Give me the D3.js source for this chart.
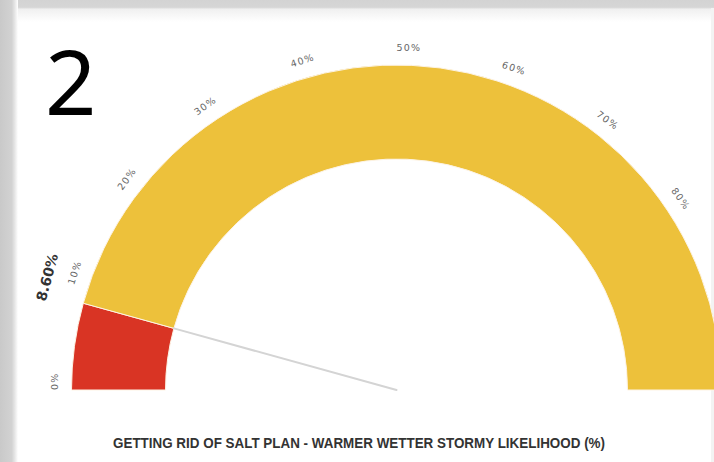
<!DOCTYPE html>
<html>
<head>
<meta charset="utf-8">
<script src="https://cdn.jsdelivr.net/npm/d3@7"></script>
<style>
  html, body { margin: 0; padding: 0; background: #fff; }
  svg { display: block; }
</style>
</head>
<body>
<svg id="chart" width="714" height="462"></svg>
<script>
// Gauge data
const gaugeMin = 0;
const gaugeMax = 100;
const gaugeValue = 8.6;
const valueLabel = "8.60%";
// Scale labels shown along the visible part of the dial
const tickValues = [0, 10, 20, 30, 40, 50, 60, 70, 80];
const tickLabels = ["0%", "10%", "20%", "30%", "40%", "50%", "60%", "70%", "80%"];
const bandStops = [gaugeMin, gaugeValue, gaugeMax];
const bandColors = ["#d93424", "#edc13b"];
const slideNumber = "2";
const chartTitle = "GETTING RID OF SALT PLAN - WARMER WETTER STORMY LIKELIHOOD (%)";

const W = 714, H = 462;
const svg = d3.select("#chart");

// Slide frame: grey bands along the top and left edges
const defs = svg.append("defs");
const gLeft = defs.append("linearGradient").attr("id", "frameLeft").attr("x1", 0).attr("x2", 1).attr("y1", 0).attr("y2", 0);
gLeft.append("stop").attr("offset", "0").attr("stop-color", "#c9c9c9");
gLeft.append("stop").attr("offset", "0.65").attr("stop-color", "#d2d2d2");
gLeft.append("stop").attr("offset", "0.82").attr("stop-color", "#e6e6e6");
gLeft.append("stop").attr("offset", "1").attr("stop-color", "#ffffff");
const gTop = defs.append("linearGradient").attr("id", "frameTop").attr("x1", 0).attr("x2", 0).attr("y1", 0).attr("y2", 1);
gTop.append("stop").attr("offset", "0").attr("stop-color", "#d3d3d3");
gTop.append("stop").attr("offset", "0.33").attr("stop-color", "#d6d6d6");
gTop.append("stop").attr("offset", "0.42").attr("stop-color", "#f0f0f0");
gTop.append("stop").attr("offset", "1").attr("stop-color", "#ffffff");

svg.append("rect").attr("x", 0).attr("y", 0).attr("width", W).attr("height", 22).attr("fill", "url(#frameTop)");
svg.append("rect").attr("x", 0).attr("y", 0).attr("width", 18).attr("height", H).attr("fill", "url(#frameLeft)");
svg.append("rect").attr("x", 711).attr("y", 8).attr("width", 3).attr("height", H).attr("fill", "#f3f3f3");

// Slide number
svg.append("text")
  .attr("x", 45).attr("y", 115)
  .attr("font-family", "'Noto Sans', 'Open Sans', sans-serif")
  .attr("font-size", 90)
  .attr("fill", "#000")
  .text(slideNumber);

// Gauge geometry
const cx = 396.5, cy = 390;
const rOuter = 325, rInner = 231;
const angle = d3.scaleLinear().domain([gaugeMin, gaugeMax]).range([-Math.PI / 2, Math.PI / 2]);
const polar = (a, r) => [cx + r * Math.sin(a), cy - r * Math.cos(a)];

const g = svg.append("g");
const arc = d3.arc().innerRadius(rInner).outerRadius(rOuter);

const bands = bandColors.map((c, i) => ({ from: bandStops[i], to: bandStops[i + 1], color: c }));
g.selectAll("path.band")
  .data(bands)
  .join("path")
  .attr("class", "band")
  .attr("transform", `translate(${cx},${cy})`)
  .attr("d", d => arc({ startAngle: angle(d.from), endAngle: angle(d.to) }))
  .attr("fill", d => d.color)
  .attr("stroke", "#fdf3e4")
  .attr("stroke-width", 1);

// Needle from the hub to the inner edge of the band
const aVal = angle(gaugeValue);
const tip = polar(aVal, rInner);
g.append("line")
  .attr("x1", cx).attr("y1", cy)
  .attr("x2", tip[0]).attr("y2", tip[1])
  .attr("stroke", "#d4d4d4")
  .attr("stroke-width", 2)
  .attr("stroke-linecap", "round");

// Tick labels around the outside of the band
const rLabel = 339;
g.selectAll("text.tick")
  .data(tickValues)
  .join("text")
  .attr("class", "tick")
  .attr("transform", d => {
    const a = angle(d);
    const p = polar(a, rLabel);
    return `translate(${p[0]},${p[1]}) rotate(${a * 180 / Math.PI})`;
  })
  .attr("text-anchor", "start")
  .attr("font-family", "'DejaVu Sans', sans-serif")
  .attr("font-size", 9.5)
  .attr("letter-spacing", 1.2)
  .attr("fill", "#666")
  .text((d, i) => tickLabels[i]);

// Value label beside the needle position
const pv = polar(aVal - 1.4 * Math.PI / 180, 362);
g.append("text")
  .attr("transform", `translate(${pv[0]},${pv[1]}) rotate(${aVal * 180 / Math.PI})`)
  .attr("text-anchor", "start")
  .attr("font-family", "'DejaVu Sans', sans-serif")
  .attr("font-weight", "bold")
  .attr("font-size", 14)
  .attr("fill", "#333")
  .text(valueLabel);

// Chart title
svg.append("text")
  .attr("x", 113).attr("y", 448)
  .attr("font-family", "'Liberation Sans', Arial, sans-serif")
  .attr("font-weight", "bold")
  .attr("font-size", 15)
  .attr("textLength", 492)
  .attr("lengthAdjust", "spacingAndGlyphs")
  .attr("fill", "#333")
  .text(chartTitle);
</script>
</body>
</html>
